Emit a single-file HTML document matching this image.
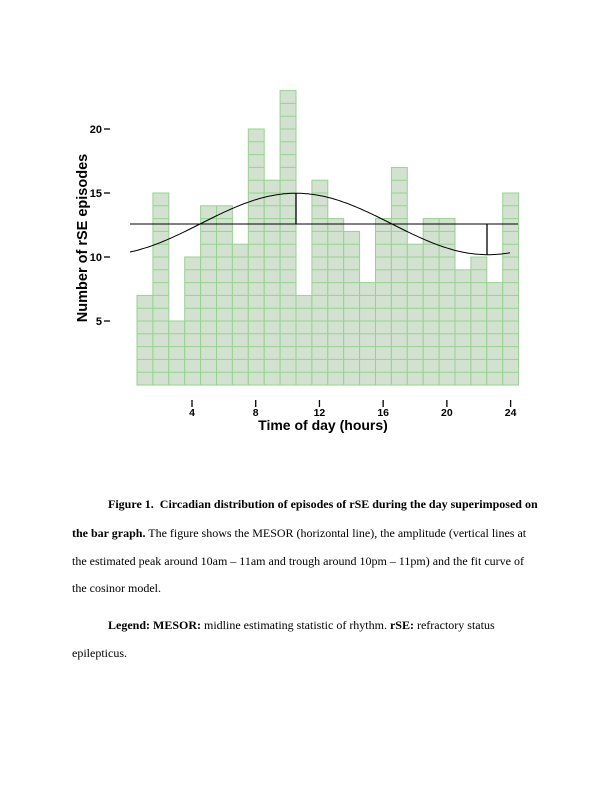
<!DOCTYPE html>
<html><head><meta charset="utf-8"><style>
body{margin:0;background:#fff;width:612px;height:792px;position:relative;overflow:hidden}
.cap{position:absolute;left:72px;width:480px;font-family:"Liberation Serif",serif;font-size:12px;color:#000;white-space:nowrap}
</style></head><body>
<svg width="612" height="792" style="position:absolute;left:0;top:0" font-family="Liberation Sans, sans-serif">
<g id="bars"></g>
<g id="ov"></g>
<g font-weight="bold" font-size="11" fill="#000">
<text x="102" y="133" text-anchor="end">20</text><line x1="104" y1="129" x2="110" y2="129" stroke="#000" stroke-width="1.3"/>
<text x="102" y="197" text-anchor="end">15</text><line x1="104" y1="193" x2="110" y2="193" stroke="#000" stroke-width="1.3"/>
<text x="102" y="261" text-anchor="end">10</text><line x1="104" y1="257" x2="110" y2="257" stroke="#000" stroke-width="1.3"/>
<text x="102" y="325" text-anchor="end">5</text><line x1="104" y1="321" x2="110" y2="321" stroke="#000" stroke-width="1.3"/>
</g>
<g id="xt" font-weight="bold" font-size="10.5"></g>
<text x="323" y="430" text-anchor="middle" font-weight="bold" font-size="14">Time of day (hours)</text>
<text transform="translate(87,238) rotate(-90)" text-anchor="middle" font-weight="bold" font-size="14.5">Number of rSE episodes</text>
</svg>
<div class="cap" style="top:497px;left:108px;"><b>Figure 1.&nbsp; Circadian distribution of episodes of rSE during the day superimposed on</b></div>
<div class="cap" style="top:526px"><b>the bar graph.</b> The figure shows the MESOR (horizontal line), the amplitude (vertical lines at</div>
<div class="cap" style="top:554px">the estimated peak around 10am – 11am and trough around 10pm – 11pm) and the fit curve of</div>
<div class="cap" style="top:581px">the cosinor model.</div>
<div class="cap" style="top:618px;left:108px;"><b>Legend: MESOR:</b> midline estimating statistic of rhythm. <b>rSE:</b> refractory status</div>
<div class="cap" style="top:646px">epilepticus.</div>
<script>
const v=[7,15,5,10,14,14,11,20,16,23,7,16,13,12,8,13,17,11,13,13,9,10,8,15];
let s="";
v.forEach((n,i)=>{const x=137+i*15.9;s+=`<rect x="${x.toFixed(1)}" y="${385-n*12.8}" width="15.9" height="${n*12.8}" fill="#d3e2d0" stroke="#96d28f" stroke-width="1"/>`;
for(let k=1;k<n;k++){const y=385-k*12.8;s+=`<line x1="${x}" x2="${x+15.9}" y1="${y}" y2="${y}" stroke="#96d28f" stroke-width="1"/>`;}});
document.getElementById("bars").innerHTML=s;
let p="";for(let x=130;x<=510;x+=2){const h=(x-128)/16;const val=12.58+2.4*Math.cos(2*Math.PI*(h-10.5)/24);p+=(x==130?"M":"L")+x+","+(385-val*12.8).toFixed(1);}
document.getElementById("ov").innerHTML=`<line x1="130" y1="224" x2="518" y2="224" stroke="#000" stroke-width="1"/><path d="${p}" fill="none" stroke="#000" stroke-width="1"/><line x1="296" y1="224" x2="296" y2="193" stroke="#000" stroke-width="1.3"/><line x1="487" y1="224" x2="487" y2="255" stroke="#000" stroke-width="1.3"/>`;
let t="";[4,8,12,16,20,24].forEach(h=>{const x=192+(h-4)*15.93;t+=`<line x1="${x}" x2="${x}" y1="400" y2="407" stroke="#000" stroke-width="1.3"/><text x="${x}" y="416" text-anchor="middle">${h}</text>`;});
document.getElementById("xt").innerHTML=t;
</script>
</body></html>
